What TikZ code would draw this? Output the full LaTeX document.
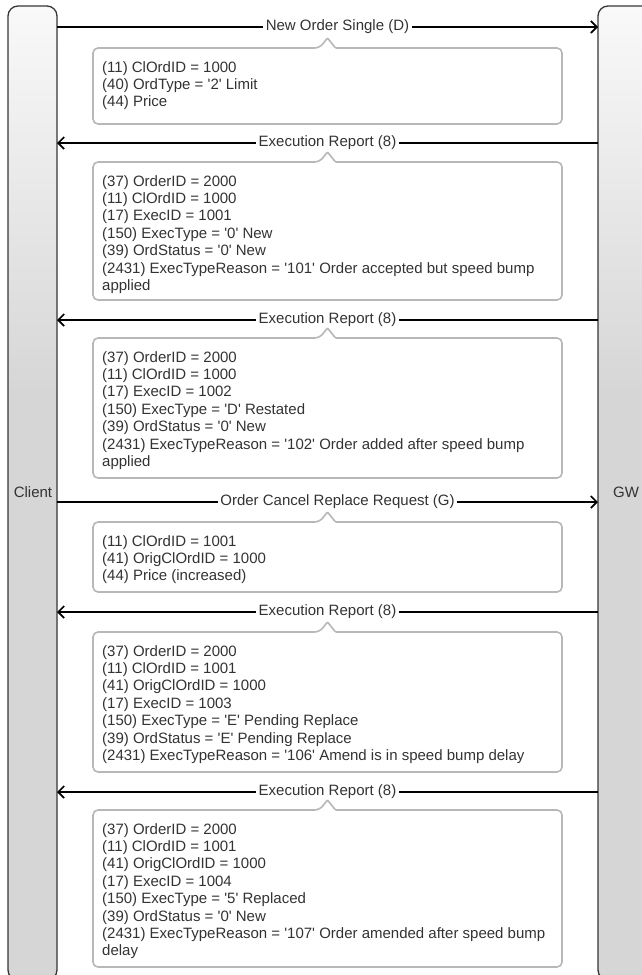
\documentclass[tikz,border=0pt]{standalone}
\usepackage{fontspec}
\setmainfont{Liberation Sans}
\usetikzlibrary{arrows.meta}
\definecolor{barg}{HTML}{D6D6D6}
\definecolor{bartop}{HTML}{F9F9F9}
\definecolor{txtc}{HTML}{333333}
\definecolor{boxc}{HTML}{B8B8B8}
\definecolor{barline}{HTML}{363636}
\pgfdeclareverticalshading{barshade}{100bp}{color(0bp)=(barg); color(25bp)=(barg); color(55bp)=(barg); color(75bp)=(bartop); color(100bp)=(bartop)}
\newcommand{\myq}{\textquotesingle}
\newcommand{\msgbox}[4]{%
  \draw[boxline] (93,{(#2+#3)/2}) -- (93,#2) -- (319.5,#2) [rounded corners=1pt] -- (327.5,{#2-10}) -- (335.5,#2) [rounded corners=5pt] -- (562,#2) -- (562,#3) -- (93,#3) -- cycle;
  \foreach \t [count=\i] in {#4} {\node[txt] (#1l\i) at (102,{#2+24+17.4*(\i-1)}) {\t};}
}
\begin{document}
\begin{tikzpicture}[x=1pt,y=-1pt,
  bar/.style={draw=barline, line width=1.3pt, rounded corners=10pt, shade, shading=barshade},
  boxline/.style={draw=boxc, line width=1.6pt, fill=white, rounded corners=5pt},
  txt/.style={anchor=base west, inner sep=0pt, text=txtc, font=\fontsize{15}{17.4}\selectfont},
  lbl/.style={fill=white, inner xsep=2.5pt, inner ysep=1pt, text=txtc, font=\fontsize{15}{17.4}\selectfont},
  rlbl/.style={lbl, xshift=10pt},
  actor/.style={text=txtc, font=\fontsize{15}{17.4}\selectfont},
  msg/.style={line width=1.7pt, -{Straight Barb[length=6pt,width=12pt,line width=1.7pt]}}]
\useasboundingbox (0,0) rectangle (642,975);
\fill[white] (0,0) rectangle (642,975);
% lifelines
\path[bar] (8,6) rectangle (57,980);
\path[bar] (598,6) rectangle (656,980);
\node[actor] (client) at (33,492) {Client};
\node[actor] (gw) at (626,492) {GW};
% connector ends
\foreach \k/\y in {1/27,2/143,3/320,4/502,5/612,6/792} {
  \coordinate (c\k) at (57,\y);
  \coordinate (g\k) at (598,\y);
}
\draw[msg] (c1) -- node[rlbl] (m1) {New Order Single (D)} (g1);
\draw[msg] (g2) -- node[lbl] (m2) {Execution Report (8)} (c2);
\draw[msg] (g3) -- node[lbl] (m3) {Execution Report (8)} (c3);
\draw[msg] (c4) -- node[rlbl] (m4) {Order Cancel Replace Request (G)} (g4);
\draw[msg] (g5) -- node[lbl] (m5) {Execution Report (8)} (c5);
\draw[msg] (g6) -- node[lbl] (m6) {Execution Report (8)} (c6);
% callouts
\msgbox{b1}{48}{124}{{(11) ClOrdID = 1000},{(40) OrdType = \myq2\myq{} Limit},{(44) Price}}
\msgbox{b2}{162}{300}{{(37) OrderID = 2000},{(11) ClOrdID = 1000},{(17) ExecID = 1001},{(150) ExecType = \myq0\myq{} New},{(39) OrdStatus = \myq0\myq{} New},{(2431) ExecTypeReason = \myq101\myq{} Order accepted but speed bump},{applied}}
\msgbox{b3}{338}{478}{{(37) OrderID = 2000},{(11) ClOrdID = 1000},{(17) ExecID = 1002},{(150) ExecType = \myq D\myq{} Restated},{(39) OrdStatus = \myq0\myq{} New},{(2431) ExecTypeReason = \myq102\myq{} Order added after speed bump},{applied}}
\msgbox{b4}{522}{592}{{(11) ClOrdID = 1001},{(41) OrigClOrdID = 1000},{(44) Price (increased)}}
\msgbox{b5}{632}{772}{{(37) OrderID = 2000},{(11) ClOrdID = 1001},{(41) OrigClOrdID = 1000},{(17) ExecID = 1003},{(150) ExecType = \myq E\myq{} Pending Replace},{(39) OrdStatus = \myq E\myq{} Pending Replace},{(2431) ExecTypeReason = \myq106\myq{} Amend is in speed bump delay}}
\msgbox{b6}{810}{967}{{(37) OrderID = 2000},{(11) ClOrdID = 1001},{(41) OrigClOrdID = 1000},{(17) ExecID = 1004},{(150) ExecType = \myq5\myq{} Replaced},{(39) OrdStatus = \myq0\myq{} New},{(2431) ExecTypeReason = \myq107\myq{} Order amended after speed bump},{delay}}
\end{tikzpicture}
\end{document}
